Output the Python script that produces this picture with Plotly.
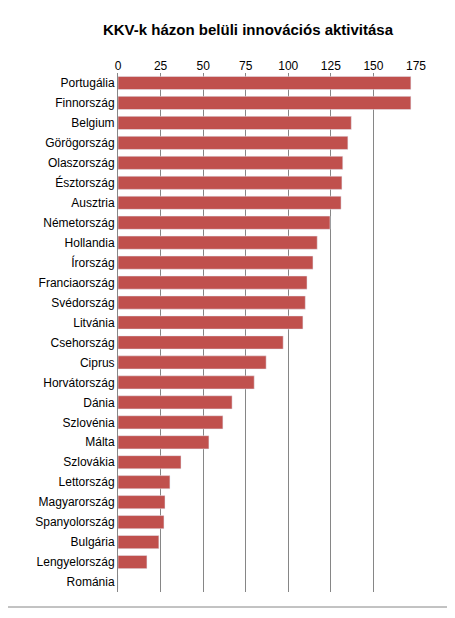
import plotly.graph_objects as go

countries = ["Portugália","Finnország","Belgium","Görögország","Olaszország","Észtország","Ausztria",
             "Németország","Hollandia","Írország","Franciaország","Svédország","Litvánia","Csehország",
             "Ciprus","Horvátország","Dánia","Szlovénia","Málta","Szlovákia","Lettország","Magyarország",
             "Spanyolország","Bulgária","Lengyelország","Románia"]
values = [172,172,137,135,132,131.5,131,124.5,117,114.5,111,110,108.6,97,87,80,67,61.6,53.4,37,30.5,27.6,27,24,17,0]
ticks = [0,25,50,75,100,125,150,175]

OFF = 8  # page body margin
W, H = 447, 610
L, R, T, B = 118 - OFF, 39, 73 - OFF, 26

fig = go.Figure(go.Bar(x=values, y=countries, orientation="h", marker_color="#C0504D",
                       width=0.66))
pw, ph = W - L - R, H - T - B
def px(x): return (x - OFF - L) / pw
def py(y): return 1 - (y - OFF - T) / ph
fig.add_shape(type="rect", xref="paper", yref="paper", x0=px(5), x1=px(449), y0=py(607), y1=py(6),
              line=dict(color="#868686", width=1))
fig.update_layout(
    width=W, height=H, margin=dict(l=L, r=R, t=T, b=B),
    plot_bgcolor="white", paper_bgcolor="white",
    font=dict(family="Liberation Sans, Arial", size=12, color="black"),
    title=dict(text="<b>KKV-k házon belüli innovációs aktivitása</b>", xref="paper", x=px(248),
               xanchor="center", yref="container", y=1 - (30 - OFF) / H, yanchor="middle",
               font=dict(size=15)),
    xaxis=dict(side="top", range=[0, 175], tickvals=ticks, showgrid=True, gridcolor="#868686",
               gridwidth=1, zeroline=False, showline=False, ticks="", tickfont=dict(size=12)),
    yaxis=dict(autorange="reversed", showline=True, linecolor="#868686", ticks="", ticklen=0,
               tickfont=dict(size=12)),
    bargap=0.34, showlegend=False,
)
fig.write_html("out.html")
